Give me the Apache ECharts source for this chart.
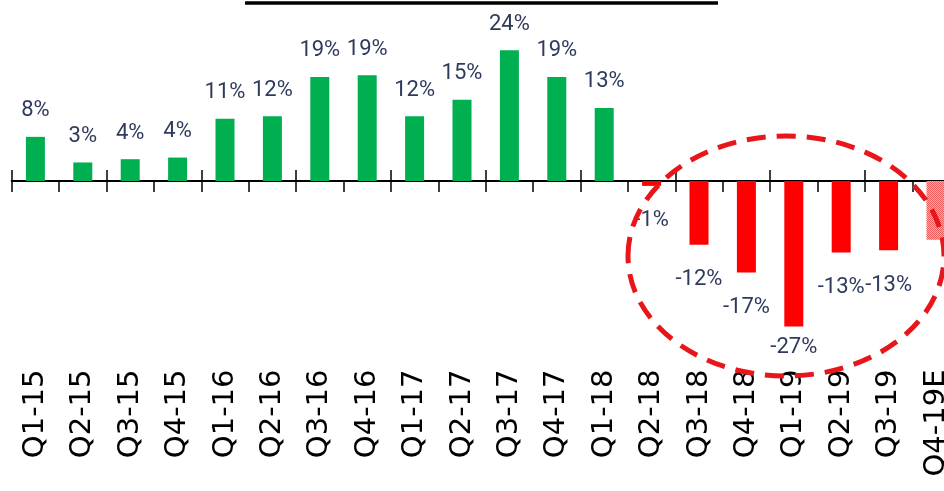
<!DOCTYPE html>
<html>
<head>
<meta charset="utf-8">
<script src="https://cdn.jsdelivr.net/npm/echarts@6/dist/echarts.min.js"></script>
<style>
html,body{margin:0;padding:0;background:#fff;}
#chart{width:944px;height:491px;}
</style>
</head>
<body>
<div id="chart"></div>
<script>
// ---- data ----
const categories = ['Q1-15','Q2-15','Q3-15','Q4-15','Q1-16','Q2-16','Q3-16','Q4-16','Q1-17','Q2-17','Q3-17','Q4-17','Q1-18','Q2-18','Q3-18','Q4-18','Q1-19','Q2-19','Q3-19','Q4-19E'];
const growth = [8.1, 3.4, 4.0, 4.3, 11.4, 11.9, 19.1, 19.4, 11.9, 14.9, 24.0, 19.1, 13.4, -0.9, -11.7, -16.8, -26.7, -13.1, -12.7, -10.8];
const estimateIndex = 19; // Q4-19E, hatched, unlabelled

// ---- styling helpers ----
const GREEN = '#00b050';
const RED = '#ff0000';
const LABEL_COLOR = '#2f3b5c';
const VAL_FONT = "Roboto,'Liberation Sans',sans-serif";

function hatchPattern(){
  const c = document.createElement('canvas');
  c.width = 2; c.height = 2;
  const g = c.getContext('2d');
  g.fillStyle = '#f7b0b0';
  g.fillRect(0,0,2,2);
  g.fillStyle = '#ee5a5a';
  g.fillRect(0,0,1,1);
  g.fillRect(1,1,1,1);
  return c;
}

const seriesData = growth.map((v, i) => {
  const item = { value: v };
  if (i === estimateIndex) {
    item.itemStyle = { color: { image: hatchPattern(), repeat: 'repeat' } };
    item.label = { show: false };
  } else if (v >= 0) {
    item.itemStyle = { color: GREEN };
    item.label = { position: 'top', distance: 15 };
  } else {
    item.itemStyle = { color: RED };
    item.label = { position: 'bottom', distance: v < -20 ? 10 : 24 };
  }
  return item;
});

const tickStyle = { show: true, length: 11, lineStyle: { color: '#000', width: 1.5 } };

const chart = echarts.init(document.getElementById('chart'), null, { renderer: 'canvas' });
chart.setOption({
  animation: false,
  backgroundColor: '#ffffff',
  grid: { left: 11.7, width: 948, top: 17.5, height: 327, outerBoundsMode: 'none' },
  xAxis: [
    {
      type: 'category',
      data: categories,
      position: 'bottom',
      axisLine: { show: true, onZero: true, onZeroAxisIndex: 0, lineStyle: { color: '#000', width: 2 } },
      axisTick: tickStyle,
      axisLabel: {
        rotate: 90,
        margin: 25,
        color: '#000',
        fontSize: 29,
        fontFamily: "'DejaVu Sans',sans-serif",
        interval: 0
      },
      splitLine: { show: false }
    },
    {
      type: 'category',
      data: categories,
      position: 'top',
      axisLine: { show: false, onZero: true, onZeroAxisIndex: 1 },
      axisTick: tickStyle,
      axisLabel: { show: false },
      splitLine: { show: false }
    }
  ],
  yAxis: [
    { type: 'value', min: -30, max: 30, show: false, splitLine: { show: false } },
    { type: 'value', min: -30, max: 30, show: false, splitLine: { show: false } }
  ],
  series: [{
    type: 'bar',
    data: seriesData,
    barWidth: 19,
    xAxisIndex: 0,
    yAxisIndex: 0,
    label: {
      show: true,
      color: LABEL_COLOR,
      fontSize: 22,
      fontFamily: VAL_FONT,
      formatter: p => Math.round(p.value) + '%'
    }
  }],
  graphic: [
    {
      type: 'line',
      shape: { x1: 245, y1: 3, x2: 718, y2: 3 },
      style: { stroke: '#000', lineWidth: 3.5 },
      z: 100
    },
    {
      type: 'ellipse',
      shape: { cx: 786, cy: 256, rx: 158, ry: 120 },
      style: { fill: null, stroke: '#e8161b', lineWidth: 5, lineDash: [19, 11] },
      z: 100
    }
  ]
});
</script>
</body>
</html>
